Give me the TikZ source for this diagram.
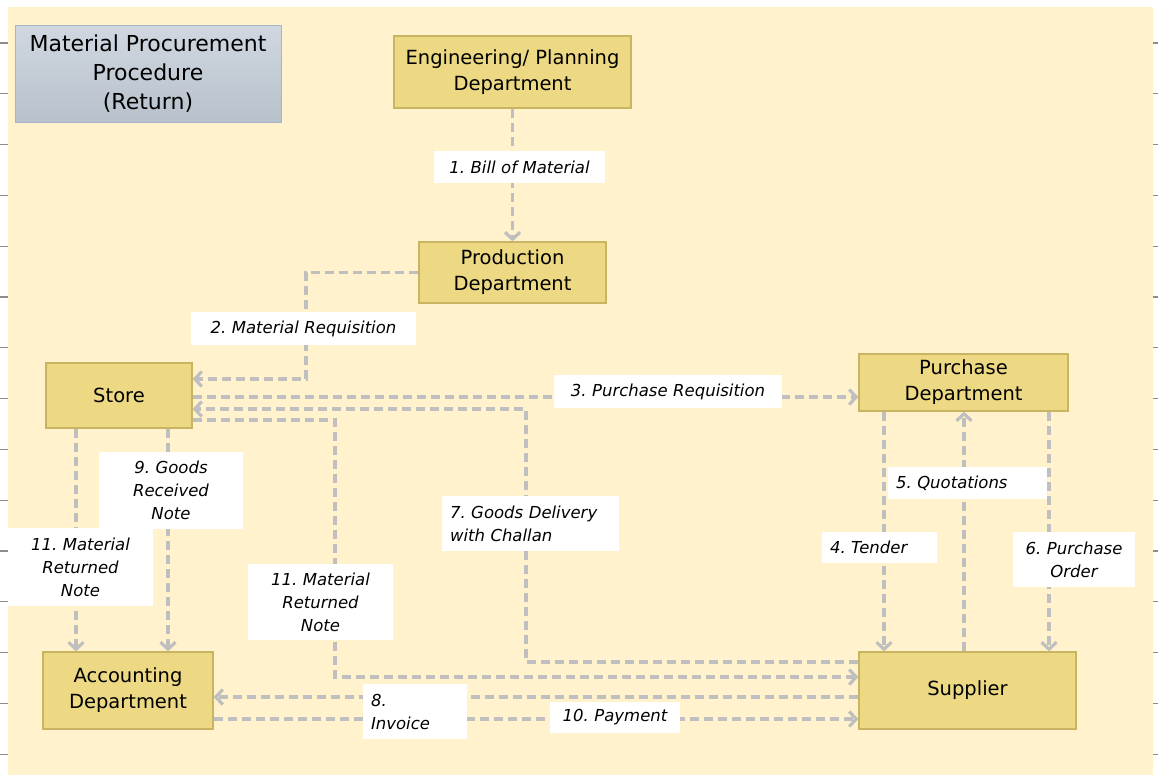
\documentclass[tikz,border=0pt]{standalone}
\usepackage{fontspec}
\setmainfont{DejaVu Sans}
\usetikzlibrary{arrows.meta}
\frenchspacing

\definecolor{paper}{HTML}{FFF2CC}
\definecolor{boxfill}{HTML}{EDD983}
\definecolor{boxedge}{HTML}{C9B463}
\definecolor{flow}{HTML}{BFBFBF}
\definecolor{titletop}{HTML}{D0D7E0}
\definecolor{titlebot}{HTML}{B8C2CC}
\definecolor{titleedge}{HTML}{A6B6C6}
\definecolor{tickgray}{HTML}{8C8C8C}

\begin{document}
\begin{tikzpicture}[x=1pt,y=-1pt,
  dept/.style={draw=boxedge, fill=boxfill, line width=1.2pt, align=center,
    font=\fontsize{19.5}{26}\selectfont, inner sep=0pt},
  lbl/.style={fill=white, inner xsep=8pt, inner ysep=0pt,
    font=\fontsize{16.5}{23}\selectfont\itshape},
  flowline/.style={draw=flow, line width=3.2pt, dash pattern=on 9pt off 5pt},
  tip/.style={-{Straight Barb[length=7pt,width=15pt]}}
]
\useasboundingbox (0,0) rectangle (1158,777);

% sheet and margin ticks
\fill[paper] (8,7) rectangle (1153,775);
\foreach \k in {0,...,14}{
  \draw[tickgray, line width=1.2pt] (0,43+\k*50.8) -- (8,43+\k*50.8);
  \draw[tickgray, line width=1.2pt] (1153,43+\k*50.8) -- (1158,43+\k*50.8);
}

% heading
\node[draw=titleedge, top color=titletop, bottom color=titlebot, line width=0.8pt,
  minimum width=266pt, minimum height=97pt, align=center, inner sep=0pt,
  font=\fontsize{22}{29}\selectfont] (title) at (148,73.5)
  {Material Procurement\\Procedure\\(Return)};

% departments
\node[dept, minimum width=237pt, minimum height=72pt] (eng) at (512.5,72) {Engineering/ Planning\\Department};
\node[dept, minimum width=187pt, minimum height=61pt] (prod) at (512.5,272.5) {Production\\Department};
\node[dept, minimum width=146pt, minimum height=65pt] (store) at (119,395.5) {Store};
\node[dept, minimum width=209pt, minimum height=57pt] (purch) at (963.5,382.5) {Purchase\\Department};
\node[dept, minimum width=170pt, minimum height=77pt] (acc) at (128,690.5) {Accounting\\Department};
\node[dept, minimum width=217pt, minimum height=77pt] (sup) at (967.5,690.5) {Supplier};

% routing points
\coordinate (r2) at (306,379);
\coordinate (r3) at (700,397);
\coordinate (r7a) at (526,662);
\coordinate (r7b) at (526,409);
\coordinate (r11a) at (335,420);
\coordinate (r11b) at (335,677);
\coordinate (r8) at (600,697);
\coordinate (r10) at (600,719);

% flows
\draw[flowline, tip] (eng.south) -- (prod.north);
\draw[flowline, tip] (prod.west) -| (r2) -- (r2 -| store.east);
\draw[flowline, tip] (r3 -| store.east) -- (r3 -| purch.west);
\draw[flowline, tip] (purch.south -| 884,0) -- (sup.north -| 884,0);
\draw[flowline, tip] (sup.north -| 964,0) -- (purch.south -| 964,0);
\draw[flowline, tip] (purch.south -| 1049,0) -- (sup.north -| 1049,0);
\draw[flowline, tip] (r7a -| sup.west) -- (r7a) -- (r7b) -- (r7b -| store.east);
\draw[flowline, tip] (r11a -| store.east) -- (r11a) -- (r11b) -- (r11b -| sup.west);
\draw[flowline, tip] (r8 -| sup.west) -- (r8 -| acc.east);
\draw[flowline, tip] (r10 -| acc.east) -- (r10 -| sup.west);
\draw[flowline, tip] (store.south -| 168,0) -- (acc.north -| 168,0);
\draw[flowline, tip] (store.south -| 76,0) -- (acc.north -| 76,0);

% flow labels
\node[lbl, text width=155pt, align=center, minimum height=32pt] (l1) at (519.5,167) {1. Bill of Material};
\node[lbl, text width=209pt, align=center, minimum height=33pt] (l2) at (303.5,328.5) {2. Material Requisition};
\node[lbl, text width=212pt, align=center, minimum height=33pt] (l3) at (668,391.5) {3. Purchase Requisition};
\node[lbl, text width=99pt, align=left, minimum height=31pt] (l4) at (879.5,547.5) {4. Tender};
\node[lbl, text width=143pt, align=left, minimum height=32pt] (l5) at (967.5,483) {5. Quotations};
\node[lbl, text width=106pt, align=center, minimum height=55pt] (l6) at (1074,559.5) {6. Purchase\\Order};
\node[lbl, text width=161pt, align=left, minimum height=55pt] (l7) at (530.5,523.5) {7. Goods Delivery\\with Challan};
\node[lbl, text width=88pt, align=left, minimum height=55pt] (l8) at (415,711.5) {8.\\Invoice};
\node[lbl, text width=128pt, align=center, minimum height=77pt] (l9) at (171,490.5) {9. Goods\\Received\\Note};
\node[lbl, text width=114pt, align=center, minimum height=31pt] (l10) at (615,717.5) {10. Payment};
\node[lbl, text width=129pt, align=center, minimum height=78pt] (l11a) at (80.5,567) {11. Material\\Returned\\Note};
\node[lbl, text width=129pt, align=center, minimum height=76pt] (l11b) at (320.5,602) {11. Material\\Returned\\Note};
\end{tikzpicture}
\end{document}
